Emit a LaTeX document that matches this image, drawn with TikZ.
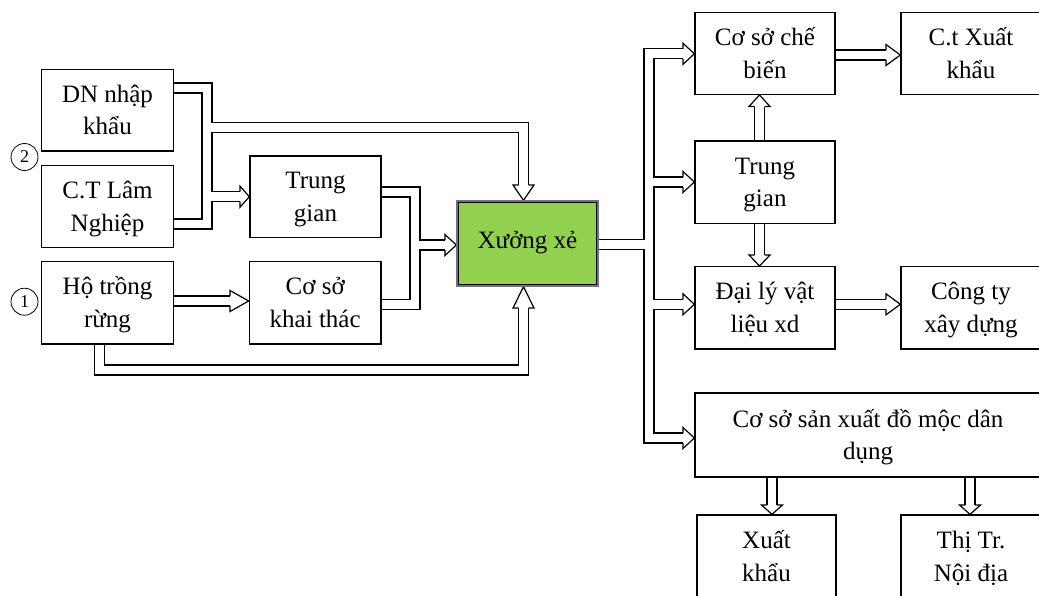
\documentclass[tikz,border=0pt]{standalone}
\usepackage{fontspec}
\setmainfont{Liberation Serif}
\usetikzlibrary{calc,backgrounds}
\newcommand\boxfont{\fontsize{25}{32.5}\selectfont}
\newcommand\ahead[2]{\filldraw[headst] ($(#1)!5pt!90:(#2)$) -- ($(#1)!10.5pt!90:(#2)$) -- (#2) -- ($(#1)!10.5pt!-90:(#2)$) -- ($(#1)!5pt!-90:(#2)$);}
\definecolor{xgreen}{HTML}{92D050}
\tikzset{
  box/.style={draw=black, line width=1.3pt, fill=white, align=center, font=\boxfont, inner sep=0pt, text height=50.5pt, text depth=1.5pt},
  onebox/.style={box, text height=18pt, text depth=8.4pt},
  shb/.style={draw=black, line width=11.2pt, line join=miter, line cap=butt},
  shw/.style={draw=white, line width=8.8pt, line join=miter, line cap=butt},
  headst/.style={draw=black, fill=white, line width=1.2pt, line join=miter},
  num/.style={circle, draw=black, line width=0.8pt, minimum size=27pt, inner sep=0pt, font=\fontsize{18}{18}\selectfont}
}
\begin{document}
\begin{tikzpicture}[x=1pt,y=-1pt]
\clip (0,0) rectangle (1039,595);
% nodes
\path
  (107.5,110)   node[box, minimum width=131.5pt, minimum height=81.7pt] (dn) {DN nhập\\khẩu}
  (107.5,206.5) node[box, minimum width=131.5pt, minimum height=81.6pt] (ct) {C.T Lâm\\Nghiệp}
  (107.5,302.7) node[box, minimum width=131.5pt, minimum height=82.7pt] (ho) {Hộ trồng\\rừng}
  (315.5,196.7) node[box, minimum width=131pt, minimum height=81.3pt] (tg1) {Trung\\gian}
  (315.2,302.7) node[box, minimum width=131.7pt, minimum height=82.7pt] (cs) {Cơ sở\\khai thác}
  (527.5,243.5) node[onebox, draw=black!55, fill=xgreen, minimum width=141pt, minimum height=85pt] (xx) {Xưởng xẻ}
  (765,53.5)    node[box, minimum width=140pt, minimum height=81.6pt] (cb) {Cơ sở chế\\biến}
  (971,53.5)    node[box, minimum width=140pt, minimum height=81.6pt] (cx) {C.t Xuất\\khẩu}
  (765,182.2)   node[box, minimum width=140pt, minimum height=82.3pt] (tg2) {Trung\\gian}
  (765,307.8)   node[box, minimum width=140pt, minimum height=82.3pt] (dl) {Đại lý vật\\liệu xd}
  (971,307.8)   node[box, minimum width=140pt, minimum height=82.3pt] (ctxd) {Công ty\\xây dựng}
  (868,435)     node[box, minimum width=346pt, minimum height=84pt] (sx) {Cơ sở sản xuất đồ mộc dân\\dụng}
  (766.5,556.5) node[box, minimum width=139pt, minimum height=83pt] (xk) {Xuất\\khẩu}
  (971,556.5)   node[box, minimum width=140pt, minimum height=83pt] (nd) {Thị Tr.\\Nội địa};
\draw[black, line width=1.2pt] ($(xx.south west)+(2.5,-2.5)$) rectangle ($(xx.north east)+(-2.5,2.5)$);
\node[num] (n2) at (24.5,157) {2};
\node[num] (n1) at (24.5,301.7) {1};
% shaft paths
\def\pA{(dn.east|-0,88) -- (207,88) -- (207,224) -- (ct.east|-0,224)}
\def\pB{(207,196.7) -- (240,196.7)}
\def\pC{(207,127.5) -- (523.5,127.5) -- (523.5,185)}
\def\pD{(ho.east|-0,301) -- (230,301)}
\def\pE{(ho.south-|99.5,0) -- (99.5,370) -- (523.5,370) -- (523.5,308)}
\def\pF{(tg1.east|-0,192) -- (415,192) -- (415,304.3) -- (cs.east|-0,304.3)}
\def\pG{(415,245) -- (445,245)}
\def\pH{(xx.east|-0,244.3) -- (649,244.3)}
\def\pI{(683,53.8) -- (649,53.8) -- (649,438) -- (683,438)}
\def\pJ{(649,182) -- (683,182)}
\def\pK{(649,304.3) -- (683,304.3)}
\def\pL{(cb.east|-0,55) -- (886,55)}
\def\pM{(tg2.north-|759.5,0) -- (759.5,106.5)}
\def\pN{(tg2.south-|759.5,0) -- (759.5,255)}
\def\pO{(dl.east|-0,304.3) -- (886,304.3)}
\def\pP{(sx.south-|772,0) -- (772,505)}
\def\pQ{(sx.south-|970,0) -- (970,505)}
% arrow tips
\coordinate (h1) at (tg1.west|-0,196.7);
\coordinate (h2) at (xx.north-|523.5,0);
\coordinate (h3) at (cs.west|-0,301);
\coordinate (h4) at (xx.south-|523.5,0);
\coordinate (h5) at (xx.west|-0,245);
\coordinate (h6) at (cb.west|-0,53.8);
\coordinate (h7) at (tg2.west|-0,182);
\coordinate (h8) at (dl.west|-0,304.3);
\coordinate (h9) at (sx.west|-0,438);
\coordinate (h10) at (cx.west|-0,55);
\coordinate (h11) at (cb.south-|759.5,0);
\coordinate (h12) at (dl.north-|759.5,0);
\coordinate (h13) at (ctxd.west|-0,304.3);
\coordinate (h14) at (xk.north-|772,0);
\coordinate (h15) at (nd.north-|970,0);
\begin{scope}[on background layer]
\fill[white] (0,0) rectangle (1039,595);
\draw[shb] \pA \pB \pC \pD \pE \pF \pG \pH \pI \pJ \pK \pL \pM \pN \pO \pP \pQ;
\draw[shw] \pA \pB \pC \pD \pE \pF \pG \pH \pI \pJ \pK \pL \pM \pN \pO \pP \pQ;
\ahead{240,196.7}{h1}
\ahead{523.5,185}{h2}
\ahead{230,301}{h3}
\ahead{523.5,308}{h4}
\ahead{445,245}{h5}
\ahead{683,53.8}{h6}
\ahead{683,182}{h7}
\ahead{683,304.3}{h8}
\ahead{683,438}{h9}
\ahead{886,55}{h10}
\ahead{759.5,106.5}{h11}
\ahead{759.5,255}{h12}
\ahead{886,304.3}{h13}
\ahead{772,505}{h14}
\ahead{970,505}{h15}
\end{scope}
\end{tikzpicture}
\end{document}
